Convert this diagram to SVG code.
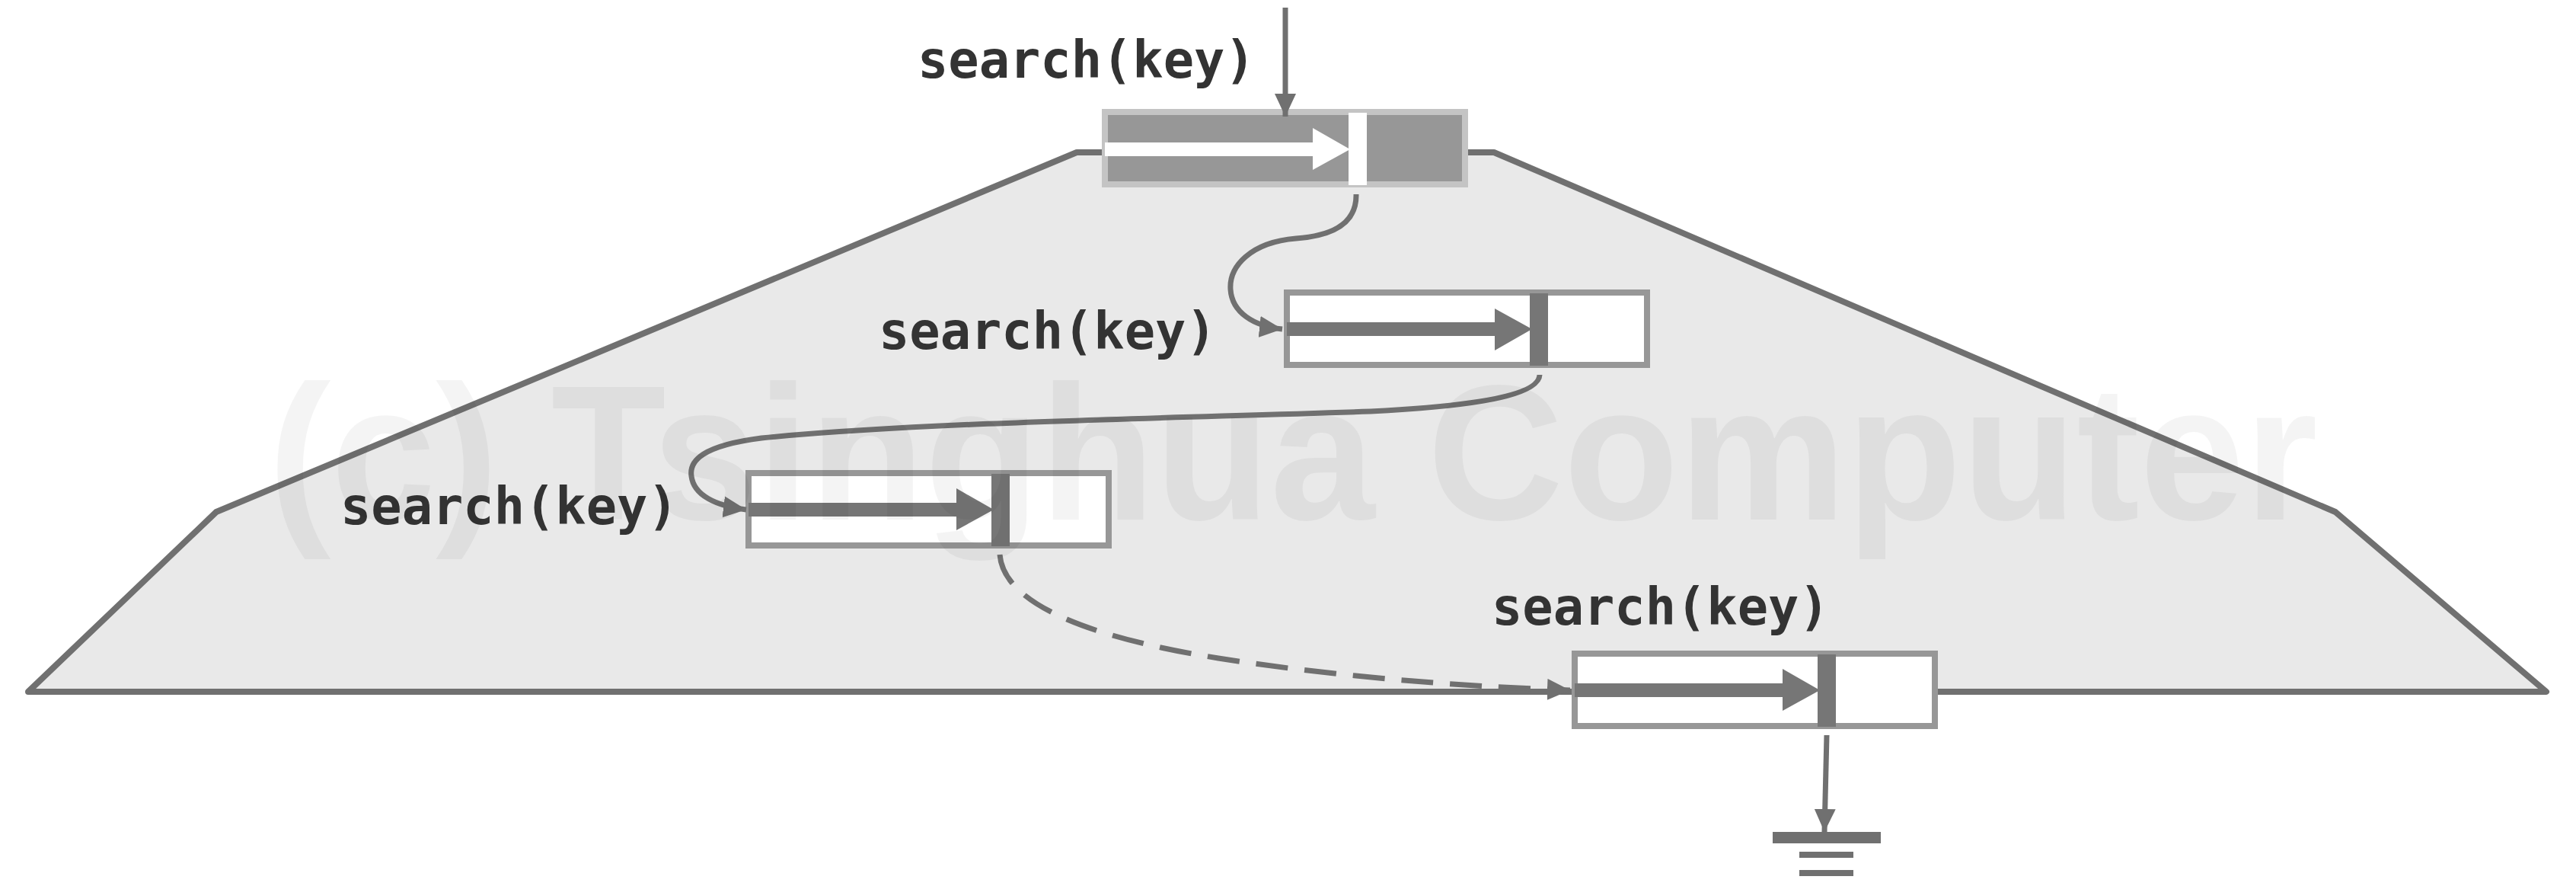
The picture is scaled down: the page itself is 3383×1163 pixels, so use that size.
<svg xmlns="http://www.w3.org/2000/svg" width="3383" height="1163" viewBox="0 0 3383 1163">
  <style>
    .bg { fill: #e9e9e9; stroke: #707070; stroke-width: 8; stroke-linejoin: round; }
    .box { fill: #ffffff; stroke: #979797; stroke-width: 8; }
    .box-hot { fill: #979797; stroke: #c4c4c4; stroke-width: 8; }
    .ptr { fill: #767676; }
    .ptr-hot { fill: #ffffff; }
    .label { font-family: "DejaVu Sans Mono", "Liberation Mono", monospace; font-weight: bold; font-size: 67px; fill: #333333; }
    .conn { fill: none; stroke: #707070; stroke-width: 7; }
    .dashed { stroke-dasharray: 42 22; }
    .ground { fill: #707070; }
    .wm { font-family: "Liberation Sans", Arial, sans-serif; font-weight: bold; font-size: 253px; fill: #000000; fill-opacity: 0.045; }
  </style>
  <defs>
    <marker id="ah" markerUnits="userSpaceOnUse" markerWidth="32" markerHeight="30" refX="30" refY="14" orient="auto">
      <path d="M0,0 L30,14 L0,28 z" fill="#707070"/>
    </marker>
  </defs>

  <g id="background">
    <polygon class="bg" points="37,908 284,672 1414,200 1962,200 3067,672 3344,908"/>
  </g>

  <g id="node1" transform="translate(1447,143)">
    <rect class="box-hot" x="4" y="4" width="473" height="95"/>
    <rect class="ptr-hot" x="4" y="44" width="275" height="18"/>
    <polygon class="ptr-hot" points="277,25 326,53 277,80"/>
    <rect class="ptr-hot" x="324" y="5" width="24" height="95"/>
  </g>
  <text id="label1" class="label" x="1205" y="102">search(key)</text>

  <g id="node2" transform="translate(1686,380)">
    <rect class="box" x="4" y="4" width="473" height="95"/>
    <rect class="ptr" x="4" y="43" width="275" height="18"/>
    <polygon class="ptr" points="277,25 326,52 277,80"/>
    <rect class="ptr" x="323" y="5" width="24" height="95"/>
  </g>
  <text id="label2" class="label" x="1154" y="458">search(key)</text>

  <g id="node3" transform="translate(979,617)">
    <rect class="box" x="4" y="4" width="473" height="95"/>
    <rect class="ptr" x="4" y="43" width="275" height="18"/>
    <polygon class="ptr" points="277,24 326,52 277,79"/>
    <rect class="ptr" x="323" y="5" width="24" height="95"/>
  </g>
  <text id="label3" class="label" x="447" y="688">search(key)</text>

  <g id="node4" transform="translate(2064,854)">
    <rect class="box" x="4" y="4" width="473" height="95"/>
    <rect class="ptr" x="4" y="43" width="275" height="18"/>
    <polygon class="ptr" points="277,24 326,52 277,79"/>
    <rect class="ptr" x="323" y="5" width="24" height="95"/>
  </g>
  <text id="label4" class="label" x="1959" y="820">search(key)</text>

  <g id="ground">
    <rect class="ground" x="2328" y="1092" width="142" height="15"/>
    <rect class="ground" x="2363" y="1118" width="71" height="8"/>
    <rect class="ground" x="2363" y="1142" width="71" height="8"/>
  </g>

  <g id="connectors">
    <path class="conn" d="M1688,10 L1688,153" marker-end="url(#ah)"/>
    <path class="conn" d="M1781,255 C1782,298 1742,310 1702,313 C1642,318 1614,350 1616,380 C1618,410 1646,428 1684,432" marker-end="url(#ah)"/>
    <path class="conn" d="M2022,492 C2021,524 1900,535 1800,540 C1500,550 1200,555 1000,575 C922,585 905,605 908,625 C911,650 940,664 980,669" marker-end="url(#ah)"/>
    <path class="conn dashed" d="M1313,728 C1318,790 1420,835 1600,864 C1780,892 1950,902 2062,906" marker-end="url(#ah)"/>
    <path class="conn" d="M2399,965 L2396,1092" marker-end="url(#ah)"/>
  </g>

  <text id="watermark" class="wm" x="352" y="682" textLength="2692" lengthAdjust="spacingAndGlyphs">(c) Tsinghua Computer</text>
</svg>
